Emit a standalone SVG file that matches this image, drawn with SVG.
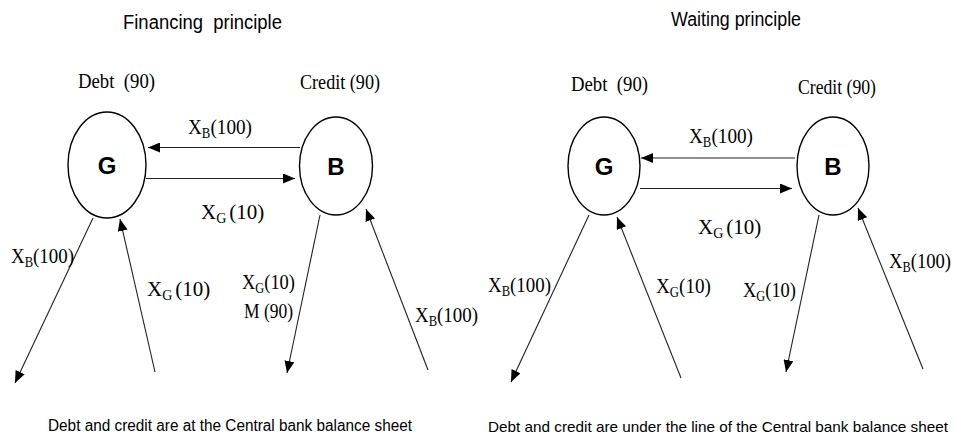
<svg xmlns="http://www.w3.org/2000/svg" width="956" height="441" viewBox="0 0 956 441">
<style>
.bg{fill:#fff}
.node{fill:#fff;stroke:#000;stroke-width:1.4}
.nl{font-family:"Liberation Sans",Arial,sans-serif;font-weight:bold;font-size:24px;text-anchor:middle;fill:#000}
.t{font-family:"Liberation Sans",Arial,sans-serif;font-size:20px;fill:#000}
.ft{font-family:"Liberation Sans",Arial,sans-serif;font-size:16px;fill:#000}
.ft2{font-family:"Liberation Sans",Arial,sans-serif;font-size:15px;fill:#000}
.l{font-family:"Liberation Serif","Times New Roman",serif;font-size:21px;fill:#000}
.s{font-size:14px}
.c line{stroke:#222;stroke-width:1.1;marker-end:url(#ah)}
</style>
<defs>
<marker id="ah" markerUnits="userSpaceOnUse" markerWidth="12" markerHeight="10" viewBox="0 0 12 10" refX="12" refY="5" orient="auto">
<path d="M0,0 L12,5 L0,10 Z" fill="#000"/>
</marker>
</defs>
<rect class="bg" x="0" y="0" width="956" height="441"/>

<g id="left-panel-texts">
<text class="t" x="123" y="29" textLength="159" lengthAdjust="spacingAndGlyphs" xml:space="preserve">Financing  principle</text>
<text class="l" x="78" y="88" textLength="77" lengthAdjust="spacingAndGlyphs" xml:space="preserve">Debt  (90)</text>
<text class="l" x="300" y="89" textLength="80" lengthAdjust="spacingAndGlyphs">Credit (90)</text>
<text class="ft" x="48" y="431" textLength="364" lengthAdjust="spacingAndGlyphs">Debt and credit are at the Central bank balance sheet</text>
</g>

<g id="right-panel-texts">
<text class="t" x="671" y="26" textLength="130" lengthAdjust="spacingAndGlyphs">Waiting principle</text>
<text class="l" x="571" y="91" textLength="77" lengthAdjust="spacingAndGlyphs" xml:space="preserve">Debt  (90)</text>
<text class="l" x="798" y="94" textLength="78" lengthAdjust="spacingAndGlyphs">Credit (90)</text>
<text class="ft2" x="488" y="432" textLength="460" lengthAdjust="spacingAndGlyphs">Debt and credit are under the line of the Central bank balance sheet</text>
</g>

<g id="node-G-left"><ellipse class="node" cx="107" cy="165" rx="39" ry="53"/><text class="nl" x="107" y="174">G</text></g>
<g id="node-B-left"><ellipse class="node" cx="336" cy="166" rx="36.5" ry="49"/><text class="nl" x="336" y="175">B</text></g>
<g id="node-G-right"><ellipse class="node" cx="604" cy="166" rx="36" ry="49"/><text class="nl" x="604" y="175">G</text></g>
<g id="node-B-right"><ellipse class="node" cx="833" cy="166" rx="36" ry="49"/><text class="nl" x="833" y="175">B</text></g>

<g id="connectors" class="c">
<line x1="300" y1="147.5" x2="148" y2="147.5"/>
<line x1="146" y1="178.5" x2="295" y2="178.5"/>
<line x1="93" y1="218" x2="15" y2="383"/>
<line x1="155" y1="372" x2="120" y2="219"/>
<line x1="320" y1="215" x2="287" y2="373"/>
<line x1="428" y1="370" x2="366" y2="209"/>

<line x1="795" y1="158" x2="641" y2="158"/>
<line x1="640" y1="188.5" x2="792" y2="188.5"/>
<line x1="589" y1="215" x2="511" y2="382"/>
<line x1="681" y1="378" x2="617" y2="217"/>
<line x1="819" y1="215" x2="786" y2="372"/>
<line x1="923" y1="369" x2="858" y2="208"/>
</g>

<g id="connector-labels">
<text class="l" x="188" y="134" textLength="64" lengthAdjust="spacingAndGlyphs">X<tspan class="s" dy="4">B</tspan><tspan dy="-4">(100)</tspan></text>
<text class="l" x="201" y="219">X<tspan class="s" dy="4">G</tspan><tspan dx="3" dy="-4">(10)</tspan></text>
<text class="l" x="11" y="263" textLength="63" lengthAdjust="spacingAndGlyphs">X<tspan class="s" dy="4">B</tspan><tspan dy="-4">(100)</tspan></text>
<text class="l" x="147" y="296">X<tspan class="s" dy="4">G</tspan><tspan dx="3" dy="-4">(10)</tspan></text>
<text class="l" x="242" y="289" textLength="53" lengthAdjust="spacingAndGlyphs">X<tspan class="s" dy="4">G</tspan><tspan dy="-4">(10)</tspan></text>
<text class="l" x="244" y="318" textLength="49" lengthAdjust="spacingAndGlyphs">M (90)</text>
<text class="l" x="415" y="322" textLength="63" lengthAdjust="spacingAndGlyphs">X<tspan class="s" dy="4">B</tspan><tspan dy="-4">(100)</tspan></text>

<text class="l" x="689" y="143" textLength="64" lengthAdjust="spacingAndGlyphs">X<tspan class="s" dy="4">B</tspan><tspan dy="-4">(100)</tspan></text>
<text class="l" x="698" y="234">X<tspan class="s" dy="4">G</tspan><tspan dx="3" dy="-4">(10)</tspan></text>
<text class="l" x="488" y="292" textLength="63" lengthAdjust="spacingAndGlyphs">X<tspan class="s" dy="4">B</tspan><tspan dy="-4">(100)</tspan></text>
<text class="l" x="656" y="293" textLength="55" lengthAdjust="spacingAndGlyphs">X<tspan class="s" dy="4">G</tspan><tspan dy="-4">(10)</tspan></text>
<text class="l" x="743" y="297" textLength="53" lengthAdjust="spacingAndGlyphs">X<tspan class="s" dy="4">G</tspan><tspan dy="-4">(10)</tspan></text>
<text class="l" x="889" y="268" textLength="62" lengthAdjust="spacingAndGlyphs">X<tspan class="s" dy="4">B</tspan><tspan dy="-4">(100)</tspan></text>
</g>
</svg>
